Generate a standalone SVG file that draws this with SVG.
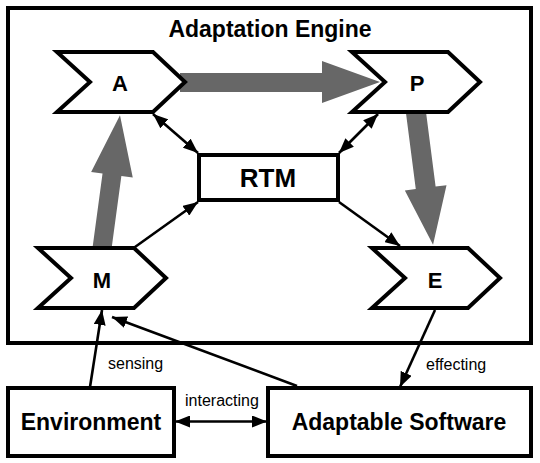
<svg xmlns="http://www.w3.org/2000/svg" width="540" height="463" viewBox="0 0 540 463">
<defs>
<style>
.box{fill:#fff;stroke:#000;stroke-width:4;stroke-linejoin:miter}
.chev{fill:#fff;stroke:#000;stroke-width:4;stroke-linejoin:miter}
.big{font-family:"Liberation Sans",Arial,sans-serif;font-weight:bold;fill:#000;text-anchor:middle}
.lbl{font-family:"Liberation Sans",Arial,sans-serif;font-size:16px;fill:#000}
.conn{fill:none;stroke:#000;stroke-width:2.6}
.gray{fill:#676767;stroke:none}
</style>
<marker id="ah" viewBox="0 0 15 12" refX="15" refY="6" markerWidth="15" markerHeight="12" markerUnits="userSpaceOnUse" orient="auto-start-reverse">
<path d="M0,0 L15,6 L0,12 Z" fill="#000"/>
</marker>
<path id="chevshape" d="M0,0 L96,0 L128,30 L96,60 L0,60 L33,30 Z"/>
</defs>
<g id="adaptation-engine">
<rect class="box" x="8" y="8" width="523" height="335"/>
<text class="big" x="270" y="37" font-size="23">Adaptation Engine</text>
</g>
<g id="connectors">
<polygon class="gray" points="180,73 322,73 322,61 380,82 322,103 322,92 180,92"/>
<polygon class="gray" transform="translate(415.4,108) rotate(82.66)" points="0,-10 80.5,-10 80.5,-21 138,0 80.5,21 80.5,10 0,10"/>
<polygon class="gray" transform="translate(101.8,250) rotate(-82.32)" points="0,-9.5 76,-9.5 76,-21 136,0 76,21 76,9.5 0,9.5"/>
<line class="conn" x1="153" y1="114" x2="198" y2="153" marker-start="url(#ah)" marker-end="url(#ah)"/>
<line class="conn" x1="378" y1="114" x2="339" y2="153" marker-start="url(#ah)" marker-end="url(#ah)"/>
<line class="conn" x1="135" y1="247" x2="198" y2="202" marker-end="url(#ah)"/>
<line class="conn" x1="339" y1="202" x2="400" y2="246" marker-end="url(#ah)"/>
<line class="conn" x1="90" y1="387" x2="102" y2="310" marker-end="url(#ah)"/>
<line class="conn" x1="297" y1="386" x2="112" y2="317" marker-end="url(#ah)"/>
<line class="conn" x1="435" y1="310" x2="400" y2="387" marker-end="url(#ah)"/>
<line class="conn" x1="175" y1="421.5" x2="267" y2="421.5" marker-start="url(#ah)" marker-end="url(#ah)"/>
<text class="lbl" x="108" y="369">sensing</text>
<text class="lbl" x="426" y="370">effecting</text>
<text class="lbl" x="185" y="406">interacting</text>
</g>
<g id="node-A">
<use href="#chevshape" class="chev" transform="translate(57,52)"/>
<text class="big" x="120" y="90.5" font-size="22">A</text>
</g>
<g id="node-P">
<use href="#chevshape" class="chev" transform="translate(352,52)"/>
<text class="big" x="417" y="90.5" font-size="22">P</text>
</g>
<g id="node-M">
<use href="#chevshape" class="chev" transform="translate(38,248)"/>
<text class="big" x="102" y="287.5" font-size="22">M</text>
</g>
<g id="node-E">
<use href="#chevshape" class="chev" transform="translate(372,248)"/>
<text class="big" x="435" y="287.5" font-size="22">E</text>
</g>
<g id="node-RTM">
<rect class="box" x="199" y="155" width="139" height="45"/>
<text class="big" x="268" y="187" font-size="26">RTM</text>
</g>
<g id="node-environment">
<rect class="box" x="8" y="388" width="166" height="68"/>
<text class="big" x="91" y="430" font-size="23">Environment</text>
</g>
<g id="node-adaptable-software">
<rect class="box" x="268" y="388" width="263" height="68"/>
<text class="big" x="399" y="430" font-size="23">Adaptable Software</text>
</g>
</svg>
